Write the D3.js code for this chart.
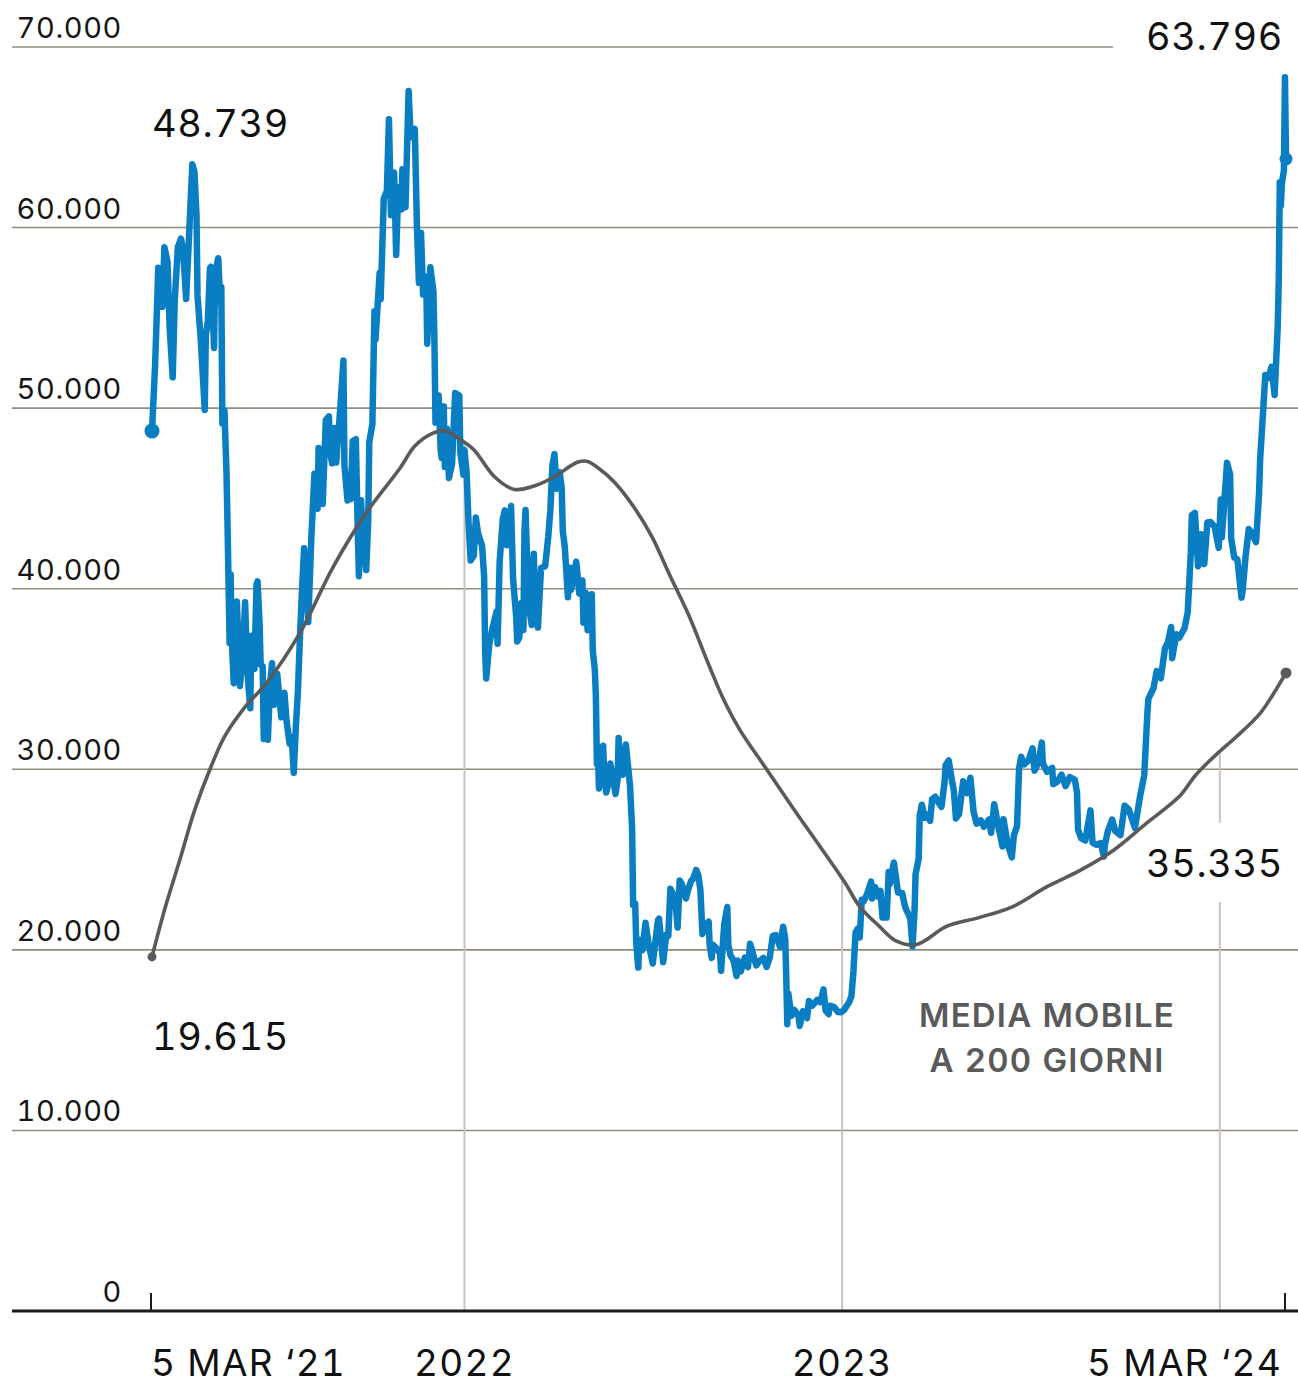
<!DOCTYPE html>
<html lang="it">
<head>
<meta charset="utf-8">
<title>Bitcoin e media mobile a 200 giorni</title>
<script src="https://cdn.jsdelivr.net/npm/d3@7/dist/d3.min.js"></script>
<style>
  html, body { margin: 0; padding: 0; background: #ffffff; }
  svg { display: block; }
  text { font-family: Inter, "Open Sans", "DejaVu Sans", sans-serif; font-variant-numeric: tabular-nums; font-feature-settings: "tnum" 1; }
</style>
</head>
<body>
<svg id="chart" width="1298" height="1386"></svg>
<script>
// Daily closing price (USD), sampled every few days with the local highs and lows kept
const btcPrice = [
  ["2021-03-05",48739],["2021-03-08",52376],["2021-03-10",55851],["2021-03-11",57773],["2021-03-13",57500],
  ["2021-03-15",55605],["2021-03-17",58912],["2021-03-20",58102],["2021-03-22",54529],["2021-03-25",51704],
  ["2021-03-27",55973],["2021-03-30",58917],["2021-04-02",59384],["2021-04-04",58758],["2021-04-07",56048],
  ["2021-04-10",59793],["2021-04-13",63503],["2021-04-15",63109],["2021-04-17",60683],["2021-04-18",56216],
  ["2021-04-21",53906],["2021-04-25",49904],["2021-04-26",54021],["2021-04-28",54824],["2021-04-30",57750],
  ["2021-05-01",57828],["2021-05-04",53333],["2021-05-05",57424],["2021-05-08",58303],["2021-05-10",55859],
  ["2021-05-11",56704],["2021-05-12",49150],["2021-05-14",49880],["2021-05-16",46456],["2021-05-17",43538],
  ["2021-05-19",37002],["2021-05-20",40782],["2021-05-21",37304],["2021-05-23",34770],["2021-05-24",38705],
  ["2021-05-26",39294],["2021-05-29",34616],["2021-06-01",36693],["2021-06-03",39246],["2021-06-05",35514],
  ["2021-06-08",33380],["2021-06-09",37389],["2021-06-12",35553],["2021-06-14",40218],["2021-06-15",40406],
  ["2021-06-17",38053],["2021-06-18",35787],["2021-06-20",35698],["2021-06-21",31676],["2021-06-24",34663],
  ["2021-06-25",31638],["2021-06-27",34644],["2021-06-29",35867],["2021-07-01",33572],["2021-07-04",35287],
  ["2021-07-08",32877],["2021-07-11",34240],["2021-07-13",32702],["2021-07-16",31421],["2021-07-18",31796],
  ["2021-07-20",29807],["2021-07-22",32313],["2021-07-24",34292],["2021-07-26",37337],["2021-07-28",39995],
  ["2021-07-30",42235],["2021-08-03",38152],["2021-08-06",42816],["2021-08-09",46365],["2021-08-12",44428],
  ["2021-08-13",47793],["2021-08-17",44695],["2021-08-20",49339],["2021-08-23",49546],["2021-08-24",47706],
  ["2021-08-26",46942],["2021-08-28",48897],["2021-08-30",46991],["2021-09-03",50025],["2021-09-06",52633],
  ["2021-09-07",46811],["2021-09-10",44884],["2021-09-12",46063],["2021-09-13",44963],["2021-09-15",48176],
  ["2021-09-18",48278],["2021-09-20",42844],["2021-09-21",40693],["2021-09-23",44896],["2021-09-25",42716],
  ["2021-09-28",41034],["2021-09-30",43790],["2021-10-01",48117],["2021-10-04",49113],["2021-10-06",55362],
  ["2021-10-07",53805],["2021-10-11",57485],["2021-10-12",56041],["2021-10-15",61593],["2021-10-18",62026],
  ["2021-10-20",65993],["2021-10-22",60693],["2021-10-25",63040],["2021-10-27",58483],["2021-10-29",62228],
  ["2021-11-01",61005],["2021-11-02",63226],["2021-11-05",61125],["2021-11-08",67566],["2021-11-10",64995],
  ["2021-11-14",65466],["2021-11-16",60161],["2021-11-18",56942],["2021-11-20",59697],["2021-11-22",56289],
  ["2021-11-25",57275],["2021-11-26",53569],["2021-11-29",57806],["2021-12-02",56477],["2021-12-03",53598],
  ["2021-12-04",49200],["2021-12-07",50700],["2021-12-09",47672],["2021-12-10",47244],["2021-12-12",50098],
  ["2021-12-13",46737],["2021-12-15",48864],["2021-12-17",46131],["2021-12-20",46914],["2021-12-23",50838],
  ["2021-12-27",50702],["2021-12-28",47543],["2021-12-31",46306],
  ["2022-01-01",47686],["2022-01-03",46458],["2022-01-05",43569],["2022-01-07",41558],["2022-01-10",41822],
  ["2022-01-12",43949],["2022-01-14",43099],["2022-01-18",42375],["2022-01-20",40680],["2022-01-21",36458],
  ["2022-01-22",35030],["2022-01-25",36954],["2022-01-28",37784],["2022-02-01",38743],["2022-02-02",36952],
  ["2022-02-04",41500],["2022-02-07",43840],["2022-02-09",44338],["2022-02-11",42407],["2022-02-14",42586],
  ["2022-02-15",44575],["2022-02-17",40538],["2022-02-20",38431],["2022-02-21",37075],["2022-02-23",37296],
  ["2022-02-25",39214],["2022-02-27",37709],["2022-02-28",43193],["2022-03-01",44355],["2022-03-04",39137],
  ["2022-03-07",37989],["2022-03-09",41941],["2022-03-10",39439],["2022-03-13",37849],["2022-03-16",41144],
  ["2022-03-20",41248],["2022-03-23",42892],["2022-03-25",44348],["2022-03-27",46820],["2022-03-29",47465],
  ["2022-03-31",45538],["2022-04-03",46453],["2022-04-05",45555],["2022-04-06",43207],["2022-04-08",42287],
  ["2022-04-11",39521],["2022-04-13",41166],["2022-04-14",39936],["2022-04-19",41502],["2022-04-22",39741],
  ["2022-04-25",40458],["2022-04-26",38117],["2022-04-28",39773],["2022-04-30",37714],["2022-05-02",38529],
  ["2022-05-04",39698],["2022-05-05",36575],["2022-05-07",35501],["2022-05-08",34059],["2022-05-09",30296],
  ["2022-05-10",31023],["2022-05-11",28936],["2022-05-15",31305],["2022-05-16",29862],["2022-05-18",28720],
  ["2022-05-20",29201],["2022-05-22",30324],["2022-05-27",28627],["2022-05-29",29445],["2022-05-30",31726],
  ["2022-06-01",29799],["2022-06-03",29704],["2022-06-06",31370],["2022-06-08",30214],["2022-06-10",29083],
  ["2022-06-12",26762],["2022-06-13",22487],["2022-06-15",22572],["2022-06-16",20381],["2022-06-18",19017],
  ["2022-06-19",20553],["2022-06-22",19988],["2022-06-25",21502],["2022-06-28",20281],["2022-06-30",19784],
  ["2022-07-02",19243],["2022-07-04",20231],["2022-07-07",21637],["2022-07-08",21731],["2022-07-12",19323],
  ["2022-07-15",20836],["2022-07-17",20779],["2022-07-19",23389],["2022-07-21",23164],["2022-07-24",22609],
  ["2022-07-26",21239],["2022-07-28",23843],["2022-07-30",23656],["2022-08-03",22846],["2022-08-05",23289],
  ["2022-08-08",23810],["2022-08-10",23947],["2022-08-13",24424],["2022-08-15",24136],["2022-08-17",23336],
  ["2022-08-19",20877],["2022-08-22",21398],["2022-08-25",21560],["2022-08-26",20241],["2022-08-28",19555],
  ["2022-08-29",20285],["2022-09-01",20127],["2022-09-05",19813],["2022-09-06",18837],["2022-09-09",21381],
  ["2022-09-12",22370],["2022-09-13",20297],["2022-09-15",19702],["2022-09-18",19420],["2022-09-21",18548],
  ["2022-09-22",19413],["2022-09-25",18803],["2022-09-29",19573],["2022-10-02",19045],["2022-10-04",20337],
  ["2022-10-06",19956],["2022-10-10",19141],["2022-10-13",19382],["2022-10-17",19550],["2022-10-20",19053],
  ["2022-10-23",19567],["2022-10-26",20771],["2022-10-29",20818],["2022-11-02",20160],["2022-11-05",21282],
  ["2022-11-07",20602],["2022-11-08",18541],["2022-11-09",15880],["2022-11-10",17586],["2022-11-13",16353],
  ["2022-11-16",16669],["2022-11-20",16291],["2022-11-21",15787],["2022-11-24",16604],["2022-11-28",16217],
  ["2022-11-30",17168],["2022-12-03",16908],["2022-12-06",17090],["2022-12-08",17233],["2022-12-11",17104],
  ["2022-12-14",17815],["2022-12-16",16647],["2022-12-19",16439],["2022-12-20",16907],["2022-12-24",16847],
  ["2022-12-28",16552],["2022-12-31",16547],
  ["2023-01-03",16680],["2023-01-06",16950],["2023-01-08",17127],["2023-01-10",17440],["2023-01-12",18846],
  ["2023-01-14",20954],["2023-01-16",21170],["2023-01-18",20681],["2023-01-20",22777],["2023-01-22",22707],
  ["2023-01-25",23078],["2023-01-29",23774],["2023-01-30",22840],["2023-02-02",23471],["2023-02-05",22938],
  ["2023-02-07",23264],["2023-02-09",21797],["2023-02-13",21786],["2023-02-15",24307],["2023-02-16",23623],
  ["2023-02-20",24839],["2023-02-24",23174],["2023-02-28",23147],["2023-03-03",22362],["2023-03-08",21705],
  ["2023-03-10",20187],["2023-03-12",22163],["2023-03-13",24197],["2023-03-16",25052],["2023-03-17",27423],
  ["2023-03-19",28038],["2023-03-22",27307],["2023-03-24",27493],["2023-03-27",27139],["2023-03-29",28348],
  ["2023-04-01",28478],["2023-04-04",28168],["2023-04-07",27923],["2023-04-10",29268],["2023-04-11",30218],
  ["2023-04-14",30486],["2023-04-17",29430],["2023-04-19",28822],["2023-04-21",27276],["2023-04-24",27515],
  ["2023-04-26",28422],["2023-04-28",29340],["2023-05-02",28680],["2023-05-05",29534],["2023-05-08",27668],
  ["2023-05-11",26987],["2023-05-15",27171],["2023-05-18",26820],["2023-05-23",27219],["2023-05-25",26480],
  ["2023-05-28",28065],["2023-06-01",26820],["2023-06-05",25732],["2023-06-06",27235],["2023-06-10",25852],
  ["2023-06-14",25124],["2023-06-16",26340],["2023-06-19",26841],["2023-06-20",28327],["2023-06-21",30027],
  ["2023-06-23",30695],["2023-06-26",30271],["2023-06-30",30477],["2023-07-04",31156],["2023-07-06",29920],
  ["2023-07-10",30414],["2023-07-13",31476],["2023-07-14",30334],["2023-07-18",29862],["2023-07-23",30081],
  ["2023-07-24",29176],["2023-07-28",29315],["2023-08-01",29705],["2023-08-05",29073],["2023-08-09",29564],
  ["2023-08-14",29409],["2023-08-16",28701],["2023-08-17",26664],["2023-08-20",26189],["2023-08-24",26056],
  ["2023-08-29",27727],["2023-08-31",25940],["2023-09-04",25819],["2023-09-08",25910],["2023-09-11",25162],
  ["2023-09-12",25840],["2023-09-15",26608],["2023-09-19",27211],["2023-09-22",26579],["2023-09-27",26356],
  ["2023-10-01",27983],["2023-10-05",27790],["2023-10-11",26756],["2023-10-16",28519],["2023-10-20",29669],
  ["2023-10-23",33087],["2023-10-24",33901],["2023-10-29",34502],["2023-11-01",35437],["2023-11-05",35042],
  ["2023-11-09",36693],["2023-11-12",37054],["2023-11-15",37880],["2023-11-16",36155],["2023-11-20",37475],
  ["2023-11-23",37296],["2023-11-28",37822],["2023-12-01",38688],["2023-12-04",41980],["2023-12-05",44080],
  ["2023-12-08",44202],["2023-12-11",41244],["2023-12-14",43022],["2023-12-17",41365],["2023-12-20",43664],
  ["2023-12-23",43697],["2023-12-27",43442],["2023-12-31",42265],
  ["2024-01-02",44943],["2024-01-03",42848],["2024-01-08",46971],["2024-01-11",46339],["2024-01-12",42782],
  ["2024-01-15",41732],["2024-01-18",41618],["2024-01-22",39507],["2024-01-23",39845],["2024-01-26",41823],
  ["2024-01-29",43303],["2024-02-01",43082],["2024-02-05",42582],["2024-02-08",45301],["2024-02-09",47147],
  ["2024-02-12",49958],["2024-02-14",51836],["2024-02-17",51661],["2024-02-20",52284],["2024-02-23",50731],
  ["2024-02-26",54522],["2024-02-27",57085],["2024-02-28",62504],["2024-02-29",61198],["2024-03-01",62440],
  ["2024-03-03",63167],["2024-03-04",68330],["2024-03-05",63796]
];

// 200-day simple moving average of the closing price
const movingAverage = [
  ["2021-03-05",19615],["2021-03-17",22200],["2021-04-01",25000],["2021-04-15",27700],["2021-04-30",30000],
  ["2021-05-14",31800],["2021-06-03",33450],["2021-06-24",34800],["2021-07-26",37550],["2021-08-27",41200],
  ["2021-09-28",44200],["2021-10-31",46700],["2021-11-14",47900],["2021-12-01",48600],["2021-12-13",48750],
  ["2021-12-27",48300],["2022-01-10",47700],["2022-01-30",46200],["2022-02-18",45500],["2022-03-10",45700],
  ["2022-03-29",46200],["2022-04-20",47000],["2022-04-30",47050],["2022-05-10",46700],["2022-05-26",45900],
  ["2022-06-14",44500],["2022-07-01",42900],["2022-07-18",40800],["2022-08-06",38500],["2022-08-25",35800],
  ["2022-09-09",33800],["2022-09-24",32200],["2022-10-20",30000],["2022-11-20",27400],["2022-12-22",24800],
  ["2023-01-04",23700],["2023-01-18",22400],["2023-02-06",21300],["2023-02-22",20500],["2023-03-14",20300],
  ["2023-04-12",21300],["2023-05-14",21800],["2023-06-15",22400],["2023-07-18",23500],["2023-08-19",24400],
  ["2023-09-20",25500],["2023-10-22",27000],["2023-11-23",28500],["2023-12-09",29700],["2024-01-01",31000],
  ["2024-01-17",31800],["2024-02-09",33100],["2024-02-21",34100],["2024-03-05",35335]
];

const yTickValues = [0, 10000, 20000, 30000, 40000, 50000, 60000, 70000];
const xTickLabels = [
  ["2021-03-05", "5 MAR \u201821"],
  ["2022-01-01", "2022"],
  ["2023-01-01", "2023"],
  ["2024-03-05", "5 MAR \u201824"]
];
const yearLines = ["2022-01-01", "2023-01-01", "2024-01-01"];
const maCaption = ["MEDIA MOBILE", "A 200 GIORNI"];

const parse = d3.timeParse("%Y-%m-%d");
const price = btcPrice.map(([d, v]) => ({ date: parse(d), value: v }));
const ma = movingAverage.map(([d, v]) => ({ date: parse(d), value: v }));

const fmt = d3.formatLocale({ decimal: ",", thousands: ".", grouping: [3], currency: ["", ""] }).format(",");

const svg = d3.select("#chart");
const W = 1298;
const axisY = 1311;

const x = d3.scaleTime()
  .domain([price[0].date, price[price.length - 1].date])
  .range([152, 1286]);
const y = d3.scaleLinear().domain([0, 70000]).range([axisY, 47]);

// moving average value at any date, by linear interpolation
const bis = d3.bisector(d => d.date).left;
function maAt(date) {
  const i = Math.max(1, Math.min(ma.length - 1, bis(ma, date)));
  const a = ma[i - 1], b = ma[i];
  const t = (date - a.date) / (b.date - a.date);
  return a.value + (b.value - a.value) * t;
}

// horizontal grid
svg.append("g")
  .selectAll("line")
  .data(yTickValues.filter(v => v > 0))
  .join("line")
  .attr("x1", 12).attr("x2", W)
  .attr("y1", d => y(d)).attr("y2", d => y(d))
  .attr("stroke", "#928c7f")
  .attr("stroke-width", 1.6);

// year separators, from the moving average down to the baseline
svg.append("g")
  .selectAll("line")
  .data(yearLines.map(parse))
  .join("line")
  .attr("x1", d => x(d)).attr("x2", d => x(d))
  .attr("y1", d => y(maAt(d))).attr("y2", axisY)
  .attr("stroke", "#c9c4b6")
  .attr("stroke-width", 2);

// y tick labels
svg.append("g")
  .selectAll("text")
  .data(yTickValues)
  .join("text")
  .attr("x", 122)
  .attr("y", d => y(d) - 9)
  .attr("text-anchor", "end")
  .attr("font-size", 29)
  .attr("font-weight", 400)
  .attr("letter-spacing", 0.6)
  .attr("fill", "#161616")
  .text(d => fmt(d));

// clear space behind the end-value labels
const lastPrice = price[price.length - 1];
const lastMa = ma[ma.length - 1];
svg.append("rect").attr("x", 1113).attr("y", 0).attr("width", W - 1113).attr("height", 62).attr("fill", "#fff");
svg.append("rect").attr("x", 1146).attr("y", 823).attr("width", W - 1146).attr("height", 79).attr("fill", "#fff");

// baseline axis with end ticks
svg.append("line")
  .attr("x1", 12).attr("x2", W)
  .attr("y1", axisY).attr("y2", axisY)
  .attr("stroke", "#1a1a1a").attr("stroke-width", 3);

svg.append("g")
  .selectAll("line")
  .data([price[0].date, lastPrice.date])
  .join("line")
  .attr("x1", d => x(d) - 1).attr("x2", d => x(d) - 1)
  .attr("y1", axisY - 18).attr("y2", axisY)
  .attr("stroke", "#1a1a1a").attr("stroke-width", 2);

// x labels
svg.append("g")
  .selectAll("text")
  .data(xTickLabels)
  .join("text")
  .attr("x", (d, i) => x(parse(d[0])) + (i === 0 ? -1 : i === xTickLabels.length - 1 ? -4 : 0))
  .attr("y", 1376)
  .attr("text-anchor", (d, i) => i === 0 ? "start" : i === xTickLabels.length - 1 ? "end" : "middle")
  .attr("font-size", 37)
  .attr("letter-spacing", 1.2)
  .attr("fill", "#111")
  .text(d => d[1]);

// price line
const line = d3.line().x(d => x(d.date)).y(d => y(d.value));
svg.append("path")
  .datum(price)
  .attr("d", line)
  .attr("fill", "none")
  .attr("stroke", "#0a7ec2")
  .attr("stroke-width", 6.5)
  .attr("stroke-linejoin", "round")
  .attr("stroke-linecap", "round");

// moving average line
const maLine = d3.line().x(d => x(d.date)).y(d => y(d.value)).curve(d3.curveCatmullRom.alpha(0.5));
svg.append("path")
  .datum(ma)
  .attr("d", maLine)
  .attr("fill", "none")
  .attr("stroke", "#5a5a5a")
  .attr("stroke-width", 3.6)
  .attr("stroke-linejoin", "round");

// end points
svg.append("circle").attr("cx", x(price[0].date)).attr("cy", y(price[0].value)).attr("r", 7.5).attr("fill", "#0a7ec2");
svg.append("circle").attr("cx", x(lastPrice.date)).attr("cy", y(lastPrice.value)).attr("r", 6.5).attr("fill", "#0a7ec2");
svg.append("circle").attr("cx", x(ma[0].date)).attr("cy", y(ma[0].value)).attr("r", 4.5).attr("fill", "#5a5a5a");
svg.append("circle").attr("cx", x(lastMa.date)).attr("cy", y(lastMa.value)).attr("r", 5.5).attr("fill", "#5a5a5a");

// value annotations
const valueLabels = [
  { v: price[0].value, x: 152, y: 137, anchor: "start" },
  { v: ma[0].value, x: 152, y: 1050, anchor: "start" },
  { v: lastPrice.value, x: 1283, y: 50, anchor: "end" },
  { v: lastMa.value, x: 1283, y: 877, anchor: "end" }
];
svg.append("g")
  .selectAll("text")
  .data(valueLabels)
  .join("text")
  .attr("x", d => d.x)
  .attr("y", d => d.y)
  .attr("text-anchor", d => d.anchor)
  .attr("font-size", 38)
  .attr("letter-spacing", 0.6)
  .attr("fill", "#111")
  .text(d => fmt(d.v));

// moving average caption
svg.append("text")
  .attr("x", 1047)
  .attr("y", 1027)
  .attr("text-anchor", "middle")
  .attr("font-size", 33)
  .attr("font-weight", 600)
  .attr("letter-spacing", 1.2)
  .attr("fill", "#5a5a5a")
  .selectAll("tspan")
  .data(maCaption)
  .join("tspan")
  .attr("x", 1047)
  .attr("dy", (d, i) => i === 0 ? 0 : 45)
  .text(d => d);
</script>
</body>
</html>
